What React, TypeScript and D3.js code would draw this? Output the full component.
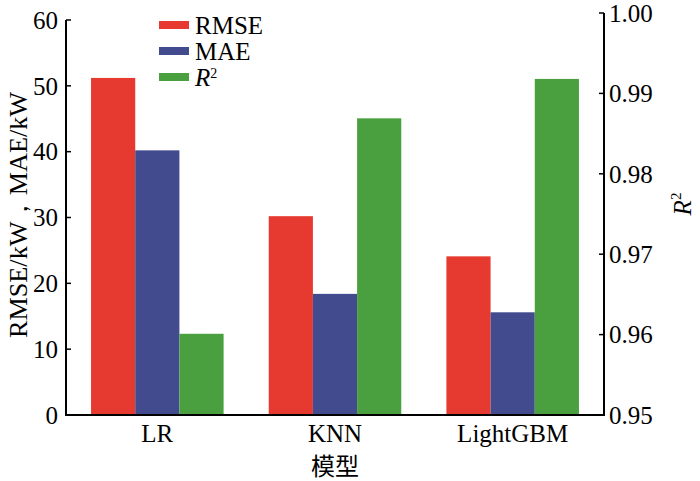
import * as d3 from "d3";

const models = ["LR", "KNN", "LightGBM"];
const series = ["RMSE", "MAE", "R2"];
const rmse = [51.2, 30.2, 24.1];
const mae = [40.2, 18.4, 15.6];
const r2 = [0.9601, 0.9869, 0.9918];
const leftTicks = [0, 10, 20, 30, 40, 50, 60];
const rightTicks = [0.95, 0.96, 0.97, 0.98, 0.99, 1.0];

const colors = ["#e63a30", "#424b8e", "#4aa03f"];

export default function App() {
  const width = 700;
  const height = 481;
  const x0 = 66;
  const x1 = 604;
  const yBottom = 415;
  const fs = 25;
  const font = "'Liberation Serif', 'Times New Roman', serif";

  const xBand = d3
    .scaleBand()
    .domain(models)
    .range([x0, x1])
    .paddingInner(0.254)
    .paddingOuter(0.141);

  const xSub = d3
    .scaleBand()
    .domain(series)
    .range([0, xBand.bandwidth()])
    .padding(0);

  const yLeft = d3.scaleLinear().domain([0, 60]).range([yBottom, 20]);
  const yRight = d3.scaleLinear().domain([0.95, 1.0]).range([yBottom, 13]);

  const bars = models.flatMap((m, i) => [
    { m, s: "RMSE", y: yLeft(rmse[i]), c: colors[0] },
    { m, s: "MAE", y: yLeft(mae[i]), c: colors[1] },
    { m, s: "R2", y: yRight(r2[i]), c: colors[2] },
  ]);

  return (
    <svg
      width={width}
      height={height}
      style={{ position: "absolute", left: 0, top: 0, background: "#fff", fontFamily: font }}
    >
      {/* bars */}
      {bars.map((b, i) => (
        <rect
          key={i}
          x={(xBand(b.m) ?? 0) + (xSub(b.s) ?? 0)}
          y={b.y}
          width={xSub.bandwidth()}
          height={yBottom - b.y}
          fill={b.c}
        />
      ))}

      {/* axis lines */}
      <line x1={x0} y1={yLeft(60)} x2={x0} y2={yBottom} stroke="#000" strokeWidth={2} />
      <line x1={x1} y1={yRight(1.0)} x2={x1} y2={yBottom} stroke="#000" strokeWidth={2} />
      <line x1={x0 - 1} y1={yBottom} x2={x1 + 1} y2={yBottom} stroke="#000" strokeWidth={2} />

      {/* left ticks */}
      {leftTicks.map((t) => (
        <g key={t}>
          <line x1={x0} x2={x0 + 5} y1={yLeft(t)} y2={yLeft(t)} stroke="#000" strokeWidth={1.5} />
          <text x={x0 - 8} y={yLeft(t)} dy="0.35em" textAnchor="end" fontSize={fs}>
            {t}
          </text>
        </g>
      ))}

      {/* right ticks */}
      {rightTicks.map((t) => (
        <g key={t}>
          <line x1={x1 - 5} x2={x1} y1={yRight(t)} y2={yRight(t)} stroke="#000" strokeWidth={1.5} />
          <text x={x1 + 5} y={yRight(t)} dy="0.35em" textAnchor="start" fontSize={fs}>
            {t.toFixed(2)}
          </text>
        </g>
      ))}

      {/* category labels */}
      {models.map((m) => (
        <text
          key={m}
          x={(xBand(m) ?? 0) + xBand.bandwidth() / 2}
          y={442}
          textAnchor="middle"
          fontSize={fs}
        >
          {m}
        </text>
      ))}
      <text
        x={(xBand("KNN") ?? 0) + xBand.bandwidth() / 2}
        y={475}
        textAnchor="middle"
        fontSize={24}
        fontFamily="'Noto Sans CJK SC', sans-serif"
      >
        模型
      </text>

      {/* axis titles */}
      <text
        transform="translate(27,215) rotate(-90)"
        textAnchor="middle"
        fontSize={fs}
        textLength={246}
        lengthAdjust="spacingAndGlyphs"
      >
        RMSE/kW，MAE/kW
      </text>
      <text transform="translate(691,204) rotate(-90)" textAnchor="middle" fontSize={fs}>
        <tspan fontStyle="italic">R</tspan>
        <tspan fontSize={15} dy={-10}>2</tspan>
      </text>

      {/* legend */}
      {series.map((s, i) => (
        <g key={s} transform={`translate(159,${25 + i * 26})`}>
          <rect x={0} y={-4} width={30} height={8} fill={colors[i]} />
          {s === "R2" ? (
            <text x={36} y={0} dy="0.35em" fontSize={fs}>
              <tspan fontStyle="italic">R</tspan>
              <tspan fontSize={14} dy={-8}>2</tspan>
            </text>
          ) : (
            <text x={36} y={0} dy="0.35em" fontSize={fs}>
              {s}
            </text>
          )}
        </g>
      ))}
    </svg>
  );
}
